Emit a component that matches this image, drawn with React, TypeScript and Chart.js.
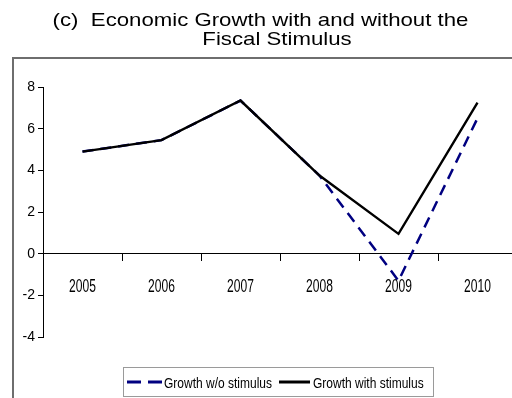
import React, { useEffect, useRef } from "react";
import { Chart, registerables } from "chart.js";

Chart.register(...registerables);

const categories = ["2005", "2006", "2007", "2008", "2009", "2010"];
const withoutStimulus = [4.9, 5.45, 7.35, 3.75, -1.3, 6.5];
const withStimulus = [4.9, 5.45, 7.35, 3.75, 0.95, 7.25];
const seriesLabels = ["Growth w/o stimulus", "Growth with stimulus"];
const titleLines = ["(c)  Economic Growth with and without the", "Fiscal Stimulus"];
const yMin = -4;
const yMax = 8;
const yStep = 2;

const SANS = "'Liberation Sans', Arial, sans-serif";

const framePlugin = {
  id: "frameAndTitle",
  beforeDraw(chart: any) {
    const ctx = chart.ctx;
    ctx.save();
    ctx.fillStyle = "#fff";
    ctx.fillRect(0, 0, chart.width, chart.height);
    ctx.strokeStyle = "#6e6e6e";
    ctx.lineWidth = 2;
    ctx.strokeRect(13, 58, chart.width + 20, chart.height + 20);
    ctx.fillStyle = "#000";
    ctx.font = `18.5px ${SANS}`;
    ctx.textAlign = "center";
    ctx.textBaseline = "alphabetic";
    const sx = 1.2;
    ctx.scale(sx, 1);
    ctx.fillText(titleLines[0], 260.5 / sx, 26);
    ctx.fillText(titleLines[1], 277 / sx, 45);
    ctx.restore();
  },
};

// draws the condensed category labels at the positions given by the x scale
const xLabelPlugin = {
  id: "condensedXLabels",
  afterDraw(chart: any) {
    const ctx = chart.ctx;
    const xs = chart.scales.x;
    const ys = chart.scales.y;
    const base = ys.getPixelForValue(0) + 38.5;
    const sx = 0.67;
    ctx.save();
    ctx.fillStyle = "#000";
    ctx.font = `18px ${SANS}`;
    ctx.textAlign = "center";
    ctx.textBaseline = "alphabetic";
    ctx.scale(sx, 1);
    xs.ticks.forEach((t: any, i: number) => {
      const px = xs.getPixelForTick(i);
      const label = String(xs.getLabelForValue(t.value));
      ctx.fillText(label, px / sx, base);
    });
    ctx.restore();
  },
};

const legendPlugin = {
  id: "boxLegend",
  afterDraw(chart: any) {
    const ctx = chart.ctx;
    const ds = chart.data.datasets;
    ctx.save();
    ctx.strokeStyle = "#9a9a9a";
    ctx.lineWidth = 1;
    ctx.strokeRect(123.5, 367.5, 310, 29);
    const items = [
      { x0: 127, x1: 162, tx: 164 },
      { x0: 279, x1: 310, tx: 313 },
    ];
    const y = 382;
    items.forEach((it, i) => {
      const d = ds[i];
      ctx.strokeStyle = d.borderColor;
      ctx.lineWidth = 3;
      ctx.setLineDash(d.borderDash && d.borderDash.length ? [14, 7] : []);
      ctx.beginPath();
      ctx.moveTo(it.x0, y);
      ctx.lineTo(it.x1, y);
      ctx.stroke();
      ctx.setLineDash([]);
      ctx.save();
      const sx = 0.8;
      ctx.font = `15px ${SANS}`;
      ctx.fillStyle = "#000";
      ctx.textAlign = "left";
      ctx.textBaseline = "alphabetic";
      ctx.scale(sx, 1);
      ctx.fillText(d.label, it.tx / sx, 388);
      ctx.restore();
    });
    ctx.restore();
  },
};

export default function App() {
  const ref = useRef<HTMLCanvasElement>(null);
  useEffect(() => {
    if (!ref.current) return;
    const chart = new Chart(ref.current, {
      type: "line",
      data: {
        labels: categories,
        datasets: [
          {
            label: seriesLabels[0],
            data: withoutStimulus,
            borderColor: "#000080",
            borderWidth: 2.5,
            borderDash: [11, 7],
            pointRadius: 0,
            tension: 0,
            fill: false,
            order: 2,
          },
          {
            label: seriesLabels[1],
            data: withStimulus,
            borderColor: "#000000",
            borderWidth: 2.4,
            pointRadius: 0,
            tension: 0,
            fill: false,
            order: 1,
          },
        ],
      },
      options: {
        animation: false,
        responsive: false,
        devicePixelRatio: 1,
        layout: { padding: { top: 87, bottom: 61, left: 0, right: 13 } },
        plugins: {
          legend: { display: false },
          title: { display: false },
          tooltip: { enabled: false },
        },
        scales: {
          x: {
            type: "category",
            offset: true,
            position: { y: 0 } as any,
            grid: {
              offset: true,
              drawOnChartArea: false,
              drawTicks: true,
              tickLength: 7,
              color: "#000",
            },
            border: { display: true, color: "#000", width: 1 },
            ticks: {
              display: false,
              autoSkip: false,
              maxRotation: 0,
            },
          },
          y: {
            min: yMin,
            max: yMax,
            afterFit(scale: any) {
              scale.width = 43;
            },
            grid: {
              drawOnChartArea: false,
              drawTicks: true,
              tickLength: 5,
              color: "#000",
            },
            border: { display: true, color: "#000", width: 1 },
            ticks: {
              stepSize: yStep,
              color: "#000",
              font: { family: SANS, size: 14 },
              padding: 3,
            },
          },
        },
      },
      plugins: [framePlugin, xLabelPlugin, legendPlugin],
    });
    return () => chart.destroy();
  }, []);
  return (
    <div
      style={{
        position: "fixed",
        left: 0,
        top: 0,
        width: 512,
        height: 398,
        overflow: "hidden",
        background: "#fff",
      }}
    >
      <canvas ref={ref} width={530} height={398} style={{ display: "block" }} />
    </div>
  );
}
